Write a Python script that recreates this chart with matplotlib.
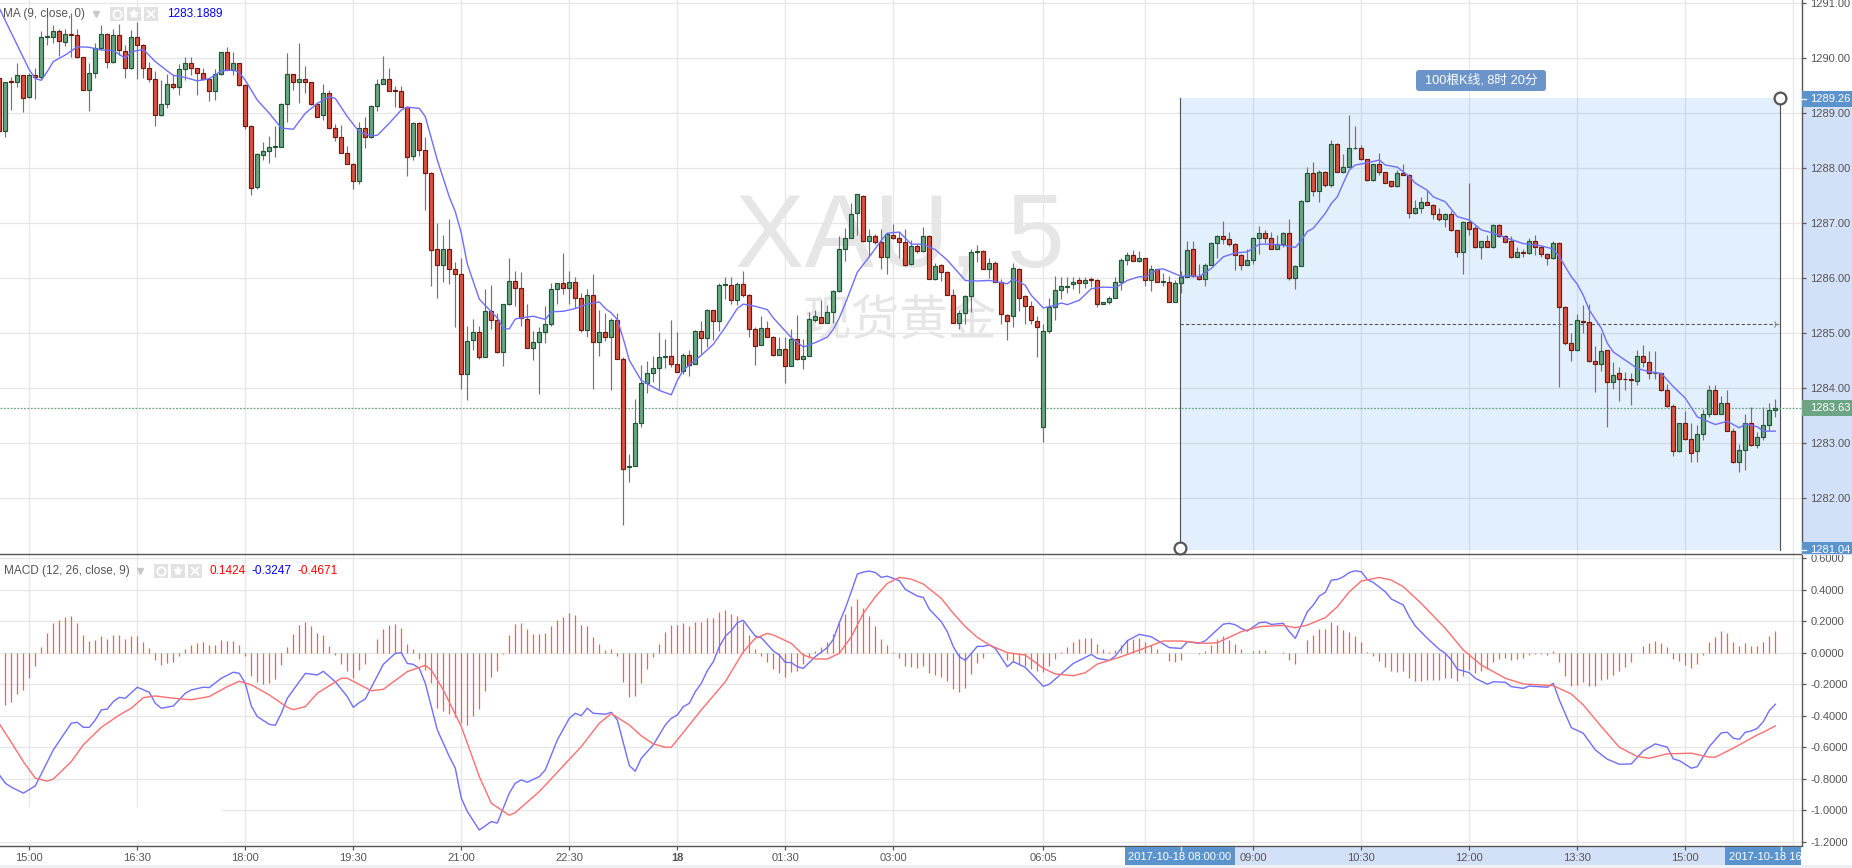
import matplotlib
matplotlib.use("Agg")
import matplotlib.pyplot as plt
from matplotlib.patches import Rectangle, FancyBboxPatch

plt.rcParams['font.family'] = ['Liberation Sans', 'Noto Sans CJK SC', 'DejaVu Sans']
plt.rcParams['axes.unicode_minus'] = False

# 5 minute XAU bars, index 0 = 14:35
opens = [
    1289.64,1288.67,1289.58,1289.55,1289.68,1289.28,1289.69,1289.65,1290.38,1290.38,
    1290.49,1290.29,1290.44,1290.42,1290.01,1289.42,1289.72,1290.17,1290.44,1289.92,
    1290.41,1290.13,1289.81,1290.38,1290.24,1289.82,1289.62,1288.95,1289.15,1289.53,
    1289.47,1289.79,1289.90,1289.81,1289.72,1289.61,1289.40,1289.70,1290.10,1289.78,
    1289.90,1289.51,1288.75,1287.65,1288.24,1288.31,1288.37,1288.38,1289.15,1289.70,
    1289.56,1289.62,1289.55,1289.15,1288.95,1289.35,1288.72,1288.56,1288.27,1288.07,
    1287.75,1288.72,1288.55,1289.13,1289.53,1289.62,1289.41,1289.39,1289.11,1288.22,
    1288.81,1288.33,1287.90,1286.53,1286.24,1286.53,1286.16,1286.07,1284.25,1284.87,
    1285.02,1284.56,1285.40,1285.24,1284.65,1285.52,1285.94,1285.82,1285.25,1284.73,
    1284.84,1285.02,1285.15,1285.79,1285.91,1285.82,1285.93,1285.64,1285.05,1285.69,
    1284.84,1285.02,1284.92,1285.24,1284.53,1282.55,1282.58,1283.36,1284.09,1284.27,
    1284.35,1284.56,1284.58,1284.44,1284.31,1284.60,1284.44,1285.04,1284.91,1285.41,
    1285.21,1285.86,1285.86,1285.60,1285.89,1285.69,1285.07,1284.78,1285.09,1284.93,
    1284.60,1284.71,1284.40,1284.89,1284.52,1284.58,1285.24,1285.28,1285.18,1285.38,
    1285.75,1286.53,1286.73,1287.18,1287.49,1286.67,1286.75,1286.65,1286.38,1286.78,
    1286.72,1286.65,1286.25,1286.58,1286.49,1286.76,1285.98,1286.24,1286.11,1285.69,
    1285.18,1285.35,1285.67,1286.47,1286.49,1286.16,1286.27,1285.93,1285.33,1285.31,
    1286.16,1285.67,1285.49,1285.22,1283.29,1285.04,1285.47,1285.78,1285.84,1285.88,
    1285.95,1285.91,1285.97,1285.95,1285.53,1285.55,1285.64,1285.93,1286.33,1286.42,
    1286.31,1286.35,1285.95,1286.15,1285.93,1285.93,1285.56,1285.91,1286.02,1286.52,
    1286.04,1285.97,1286.24,1286.64,1286.75,1286.71,1286.62,1286.42,1286.24,1286.33,
    1286.73,1286.82,1286.72,1286.53,1286.62,1286.82,1286.00,1286.22,1287.39,1287.90,
    1287.57,1287.93,1287.69,1288.44,1287.93,1288.02,1288.35,1288.35,1288.15,1287.77,
    1288.06,1287.92,1287.75,1287.66,1287.90,1287.87,1287.17,1287.26,1287.37,1287.33,
    1287.15,1287.06,1287.16,1286.86,1286.47,1287.02,1286.90,1286.55,1286.66,1286.55,
    1286.95,1286.75,1286.66,1286.38,1286.46,1286.45,1286.66,1286.55,1286.44,1286.35,
    1286.64,1285.46,1284.82,1284.68,1285.22,1285.19,1284.48,1284.44,1284.68,1284.10,
    1284.26,1284.16,1284.15,1284.13,1284.57,1284.46,1284.26,1284.26,1283.95,1283.66,
    1282.84,1283.35,1283.06,1282.84,1283.15,1283.53,1283.95,1283.53,1283.72,1283.22,
    1282.64,1282.86,1283.35,1282.95,1283.10,1283.32,1283.59]
closes = [
    1288.67,1289.56,1289.55,1289.68,1289.27,1289.69,1289.65,1290.38,1290.39,1290.49,
    1290.30,1290.44,1290.42,1290.01,1289.42,1289.72,1290.17,1290.44,1289.92,1290.41,
    1290.14,1289.81,1290.38,1290.24,1289.82,1289.62,1288.95,1289.15,1289.53,1289.47,
    1289.79,1289.90,1289.81,1289.72,1289.61,1289.40,1289.70,1290.10,1289.78,1289.90,
    1289.51,1288.75,1287.64,1288.25,1288.31,1288.37,1288.39,1289.15,1289.70,1289.56,
    1289.62,1289.55,1289.15,1288.93,1289.35,1288.72,1288.56,1288.27,1288.07,1287.75,
    1288.72,1288.55,1289.13,1289.53,1289.62,1289.40,1289.39,1289.11,1288.20,1288.82,
    1288.33,1287.90,1286.51,1286.24,1286.53,1286.16,1286.07,1284.25,1284.85,1285.02,
    1284.56,1285.40,1285.24,1284.65,1285.52,1285.94,1285.82,1285.27,1284.73,1284.84,
    1285.02,1285.15,1285.80,1285.91,1285.82,1285.93,1285.64,1285.05,1285.69,1284.84,
    1285.02,1284.92,1285.24,1284.53,1282.53,1282.58,1283.36,1284.09,1284.27,1284.35,
    1284.56,1284.58,1284.44,1284.29,1284.60,1284.42,1285.04,1284.91,1285.41,1285.21,
    1285.86,1285.88,1285.60,1285.89,1285.69,1285.07,1284.75,1285.09,1284.93,1284.60,
    1284.71,1284.40,1284.89,1284.52,1284.58,1285.25,1285.31,1285.18,1285.38,1285.75,
    1286.53,1286.73,1287.16,1287.53,1286.67,1286.75,1286.65,1286.38,1286.80,1286.72,
    1286.65,1286.23,1286.58,1286.49,1286.76,1285.98,1286.22,1286.11,1285.69,1285.18,
    1285.35,1285.67,1286.47,1286.49,1286.16,1286.27,1285.93,1285.34,1285.22,1286.18,
    1285.64,1285.49,1285.24,1285.11,1285.04,1285.47,1285.78,1285.85,1285.85,1285.93,
    1285.91,1285.96,1285.95,1285.53,1285.55,1285.64,1285.93,1286.33,1286.42,1286.31,
    1286.35,1285.95,1286.15,1285.93,1285.94,1285.56,1285.91,1286.02,1286.51,1286.04,
    1285.97,1286.24,1286.64,1286.75,1286.71,1286.62,1286.42,1286.24,1286.33,1286.73,
    1286.82,1286.72,1286.53,1286.62,1286.82,1286.00,1286.22,1287.39,1287.90,1287.57,
    1287.93,1287.69,1288.44,1287.93,1288.02,1288.35,1288.35,1288.15,1287.77,1288.06,
    1287.92,1287.73,1287.66,1287.90,1287.87,1287.17,1287.26,1287.37,1287.33,1287.15,
    1287.06,1287.16,1286.86,1286.47,1287.02,1286.89,1286.55,1286.66,1286.56,1286.95,
    1286.75,1286.65,1286.38,1286.46,1286.45,1286.66,1286.55,1286.44,1286.35,1286.64,
    1285.46,1284.82,1284.68,1285.24,1285.19,1284.48,1284.44,1284.66,1284.10,1284.24,
    1284.16,1284.15,1284.14,1284.57,1284.46,1284.26,1284.27,1283.95,1283.66,1282.84,
    1283.35,1283.06,1282.82,1283.15,1283.53,1283.95,1283.53,1283.72,1283.22,1282.64,
    1282.86,1283.35,1282.95,1283.10,1283.32,1283.59,1283.63]
highs = [
    1289.66,1289.56,1289.65,1289.90,1289.69,1289.73,1289.81,1290.48,1290.78,1290.59,
    1290.53,1290.53,1290.81,1290.52,1290.02,1289.90,1290.26,1290.59,1290.45,1290.52,
    1290.61,1290.23,1290.50,1290.65,1290.25,1289.93,1289.75,1289.59,1289.70,1289.68,
    1289.88,1290.02,1290.02,1289.82,1289.81,1289.63,1289.79,1290.11,1290.20,1290.11,
    1289.91,1289.53,1288.78,1288.27,1288.47,1288.58,1288.75,1289.17,1290.08,1289.70,
    1290.26,1289.85,1289.56,1289.17,1289.53,1289.41,1288.79,1288.78,1288.39,1288.08,
    1288.84,1288.93,1289.14,1289.62,1290.03,1289.81,1289.48,1289.48,1289.12,1288.84,
    1288.84,1288.55,1287.92,1287.00,1286.78,1287.07,1286.28,1286.35,1285.13,1285.25,
    1285.13,1285.80,1285.86,1285.35,1285.53,1286.35,1286.13,1286.11,1285.52,1285.04,
    1285.10,1285.48,1285.91,1285.91,1286.45,1286.13,1286.02,1285.73,1285.80,1286.06,
    1285.41,1285.35,1285.27,1285.35,1284.55,1282.79,1283.79,1284.42,1284.48,1284.57,
    1285.02,1284.88,1285.24,1285.01,1284.63,1284.68,1285.05,1285.22,1285.44,1285.42,
    1285.90,1286.01,1286.01,1285.92,1286.12,1285.71,1285.10,1285.30,1285.21,1284.94,
    1284.92,1284.92,1285.07,1285.32,1284.89,1285.38,1285.41,1285.60,1285.50,1285.77,
    1286.75,1286.90,1287.36,1287.53,1287.50,1286.89,1286.80,1286.89,1286.82,1286.97,
    1286.84,1286.89,1286.68,1286.62,1286.93,1286.77,1286.27,1286.25,1286.13,1285.80,
    1285.41,1285.68,1286.53,1286.60,1286.50,1286.36,1286.30,1285.98,1285.34,1286.27,
    1286.17,1285.68,1285.57,1285.31,1285.15,1285.64,1286.04,1286.02,1286.02,1286.01,
    1286.01,1286.02,1286.01,1285.97,1285.55,1285.66,1286.02,1286.36,1286.47,1286.51,
    1286.48,1286.36,1286.24,1286.16,1286.09,1286.04,1285.95,1286.13,1286.66,1286.66,
    1286.25,1286.27,1286.65,1286.77,1287.03,1286.83,1286.63,1286.43,1286.53,1286.74,
    1286.94,1286.87,1286.83,1286.78,1286.84,1287.06,1286.23,1287.41,1288.01,1288.10,
    1287.96,1287.94,1288.50,1288.45,1288.25,1288.96,1288.76,1288.41,1288.16,1288.07,
    1288.26,1287.93,1287.76,1287.96,1288.06,1287.88,1287.41,1287.47,1287.59,1287.34,
    1287.26,1287.18,1287.21,1286.87,1287.03,1287.72,1286.95,1286.67,1286.78,1286.98,
    1286.98,1286.78,1286.76,1286.56,1286.52,1286.73,1286.78,1286.56,1286.45,1286.66,
    1286.65,1285.48,1284.99,1285.34,1285.50,1285.53,1284.76,1285.00,1284.69,1284.46,
    1284.37,1284.28,1284.26,1284.68,1284.77,1284.66,1284.67,1284.27,1284.06,1283.70,
    1283.36,1283.57,1283.35,1283.33,1283.62,1284.05,1284.05,1283.84,1283.96,1283.26,
    1282.97,1283.52,1283.64,1283.20,1283.64,1283.72,1283.79]
lows = [
    1288.62,1288.56,1289.05,1289.47,1289.02,1289.27,1289.25,1289.62,1290.23,1290.26,
    1290.04,1290.22,1290.02,1290.00,1289.41,1289.03,1289.64,1290.15,1289.82,1289.90,
    1290.05,1289.64,1289.79,1289.62,1289.64,1289.55,1288.75,1288.94,1289.08,1289.44,
    1289.32,1289.59,1289.68,1289.32,1289.59,1289.22,1289.24,1289.69,1289.77,1289.68,
    1289.49,1288.70,1287.50,1287.62,1288.14,1288.08,1288.20,1288.38,1288.84,1289.41,
    1289.18,1289.36,1289.14,1288.93,1288.87,1288.71,1288.49,1288.26,1288.06,1287.62,
    1287.70,1288.35,1288.54,1289.04,1289.52,1289.39,1289.11,1289.11,1287.85,1288.14,
    1288.22,1287.23,1285.85,1285.63,1285.92,1285.89,1285.10,1283.98,1283.77,1284.68,
    1284.52,1284.55,1285.06,1284.64,1284.39,1285.50,1285.48,1285.13,1284.72,1284.50,
    1283.89,1284.81,1285.13,1285.52,1285.71,1285.52,1285.45,1285.01,1284.93,1283.98,
    1284.57,1284.85,1283.95,1284.52,1281.50,1282.28,1282.57,1283.28,1283.90,1284.10,
    1283.95,1284.35,1284.38,1284.28,1284.25,1284.22,1284.43,1284.62,1284.74,1284.86,
    1285.04,1285.62,1285.52,1285.50,1285.65,1284.93,1284.41,1284.77,1284.92,1284.58,
    1284.59,1284.08,1284.39,1284.50,1284.34,1284.57,1285.19,1285.17,1285.17,1285.18,
    1285.74,1286.30,1286.72,1286.77,1286.65,1286.38,1286.62,1286.16,1286.07,1286.71,
    1286.36,1286.22,1286.24,1286.45,1286.47,1285.97,1285.95,1285.94,1285.68,1285.17,
    1285.06,1285.16,1285.38,1286.28,1286.15,1285.99,1285.92,1285.15,1284.86,1285.10,
    1285.39,1285.15,1285.15,1284.56,1283.02,1285.00,1285.24,1285.61,1285.72,1285.79,
    1285.73,1285.82,1285.84,1285.47,1285.53,1285.52,1285.63,1285.77,1286.24,1286.30,
    1286.29,1285.85,1285.76,1285.92,1285.85,1285.55,1285.55,1285.72,1286.01,1286.02,
    1285.95,1285.85,1286.23,1286.35,1286.62,1286.58,1286.14,1286.14,1286.23,1286.25,
    1286.44,1286.64,1286.52,1286.52,1286.55,1285.96,1285.80,1286.21,1287.38,1287.48,
    1287.38,1287.65,1287.65,1287.92,1287.91,1288.01,1288.34,1288.14,1287.76,1287.76,
    1287.87,1287.72,1287.65,1287.65,1287.86,1287.08,1287.16,1287.18,1287.32,1287.07,
    1287.03,1286.93,1286.85,1286.38,1286.07,1286.78,1286.54,1286.34,1286.55,1286.54,
    1286.74,1286.65,1286.36,1286.38,1286.38,1286.44,1286.42,1286.38,1286.23,1286.34,
    1284.02,1284.78,1284.48,1284.67,1284.99,1284.47,1283.93,1284.30,1283.29,1283.98,
    1283.76,1283.96,1283.69,1284.05,1284.37,1284.16,1284.15,1283.94,1283.65,1282.76,
    1282.83,1283.05,1282.64,1282.64,1283.05,1283.47,1283.52,1283.52,1283.21,1282.63,
    1282.47,1282.50,1282.94,1282.91,1283.04,1283.21,1283.47]

ma_idx = [0,5,6,7,8,9,11,13,15,17,19,21,22,24,26,28,29,31,33,35,37,39,40,41,43,45,47,49,51,53,55,56,58,60,62,63,65,67,68,70,71,73,75,76,77,
          78,80,82,83,84,85,86,87,89,91,92,94,96,98,100,101,102,103,104,105,107,108,110,112,113,114,117,119,121,123,124,126,128,129,132,134,136,138,139,140,141,143,145,147,148,150,152,154,156,158,161,163,165,168,
          169,171,172,174,176,177,178,180,182,184,186,188,190,191,193,194,196,197,
          198,200,202,204,206,208,210,212,214,216,217,218,219,221,222,223,224,225,226,228,230,231,233,235,236,238,239,241,
          243,245,247,249,251,254,257,259,260,262,263,264,265,267,268,269,271,273,275,277,279,281,283,286,288,290,291,293,294,296]
ma_val = [1290.90,1289.78,1289.62,1289.59,1289.75,1289.93,1290.05,1290.20,1290.19,1290.14,1290.13,1289.99,1290.11,1290.15,1289.93,1289.76,1289.68,1289.64,1289.58,1289.62,1289.76,1289.78,1289.73,1289.59,1289.23,1288.99,1288.72,1288.70,1288.99,1289.17,1289.29,1289.26,1288.93,1288.65,1288.58,1288.59,1288.81,1289.05,1289.10,1289.08,1288.93,1288.14,1287.47,1287.20,1286.81,
          1286.25,1285.61,1285.38,1285.27,1285.07,1285.07,1285.25,1285.27,1285.30,1285.24,1285.38,1285.39,1285.44,1285.52,1285.56,1285.44,1285.36,1285.24,1284.89,1284.50,1284.13,1284.07,1283.95,1283.87,1284.13,1284.32,1284.59,1284.79,1285.10,1285.44,1285.52,1285.48,1285.42,1285.27,1284.91,1284.74,1284.82,1284.92,1285.06,1285.27,1285.53,1286.10,1286.38,1286.68,1286.81,1286.83,1286.61,1286.61,1286.51,1286.32,1285.95,1285.94,1285.95,1285.89,
          1285.98,1285.86,1285.68,1285.45,1285.50,1285.54,1285.51,1285.59,1285.80,1285.83,1285.82,1285.95,1286.02,1286.01,1286.15,1286.16,1286.07,1286.02,
          1286.04,1286.02,1286.17,1286.38,1286.45,1286.47,1286.61,1286.61,1286.59,1286.55,1286.68,1286.84,1286.90,1287.17,1287.35,1287.47,1287.72,1287.96,1288.05,1288.09,1288.14,1288.05,1288.01,1287.84,1287.72,1287.59,1287.47,1287.38,
          1287.11,1287.05,1286.87,1286.81,1286.73,1286.62,1286.58,1286.52,1286.38,1286.02,1285.88,1285.68,1285.41,1285.08,1284.81,1284.65,1284.50,1284.35,1284.29,1284.26,1284.02,1283.81,1283.47,1283.33,1283.39,1283.27,1283.34,1283.29,1283.21,1283.21]

# MACD histogram for bars 1..296
hist_val = [
    -.331,-.312,-.262,-.236,-.162,-.084,.036,.124,.188,.209,.226,.232,.188,.112,.074,.080,.105,.086,.112,.112,
    .086,.105,.105,.068,.030,-.046,-.078,-.065,-.059,-.021,.023,.049,.061,.068,.049,.049,.080,.074,.074,.049,
    -.021,-.148,-.186,-.198,-.192,-.167,-.078,.036,.118,.175,.194,.169,.124,.112,.042,-.015,-.072,-.116,-.160,-.110,
    -.072,0,.086,.150,.175,.181,.156,.055,.023,-.040,-.110,-.192,-.350,-.369,-.388,-.405,-.447,-.458,-.401,-.357,
    -.243,-.154,-.116,-.008,.112,.181,.188,.150,.118,.118,.124,.169,.207,.226,.251,.238,.175,.169,.099,.055,
    .017,.023,-.021,
    -.186,-.278,-.274,-.192,-.103,-.025,.055,.131,.175,.175,.188,.169,.194,.194,.219,.219,.257,.270,.245,.232,.194,.112,
    .023,-.019,-.057,-.103,-.129,-.154,-.122,-.114,-.072,-.036,.011,.036,.068,.118,.188,.245,.295,.340,.281,.232,.169,.086,.049,.004,
    -.034,-.084,-.091,-.097,-.084,-.129,-.141,-.154,-.179,-.230,-.249,-.224,-.135,-.065,-.034,0,0,-.004,-.046,-.059,-.072,-.084,-.103,-.116,-.122,
    -.084,-.040,.004,.036,.068,.086,.093,.093,.055,.023,.004,.017,.049,.080,.086,.093,.068,.049,.023,0,-.053,-.059,-.046,0,0,-.008,.011,.049,.084,.105,.080,.055,
    .023,0,.011,.017,.017,0,0,.004,-.046,-.072,0,.080,.112,.150,.150,.194,.175,.143,.131,.105,.068,.004,-.021,-.053,-.091,-.116,-.122,-.116,-.160,-.179,-.179,
    -.173,-.173,-.173,-.160,-.160,-.179,-.148,-.110,-.129,-.116,-.103,-.059,-.040,-.034,-.046,-.040,-.034,-.017,-.008,-.006,-.015,.011,
    -.059,-.148,-.211,-.205,-.186,-.211,-.211,-.173,-.167,-.141,-.116,-.091,-.059,0,.042,.061,.074,.061,.036,
    -.040,-.053,-.078,-.097,-.072,-.015,.068,.099,.137,.124,.068,.042,.061,.042,.042,.068,.105,.137]

macd_idx = [0,1,2,4,6,9,12,13,14,15,16,17,18,19,20,21,23,25,26,27,29,31,32,34,35,37,39,40,41,42,43,45,46,47,48,51,53,54,56,58,59,60,61,64,66,67,68,69,70,71,73,75,76,77,78,80,82,83,85,86,87,88,90,91,93,95,96,97,98,99,101,102,103,
            105,106,107,109,111,112,113,114,115,116,117,118,119,120,121,122,123,124,125,126,127,129,130,131,132,133,134,136,138,139,140,141,142,143,144,145,146,147,148,150,151,153,154,155,157,158,159,160,161,163,164,165,166,168,169,171,174,175,179,182,183,185,186,188,190,192,195,197,198,200,201,204,205,206,207,
            208,210,211,212,214,215,216,217,218,219,220,221,222,223,224,225,226,227,228,229,231,232,234,235,236,238,240,241,242,243,245,246,248,249,251,252,254,255,258,259,260,262,264,266,268,270,272,274,276,278,279,280,282,283,285,287,288,289,290,291,292,293,294,295,296]
macd_val = [-.774,-.827,-.852,-.890,-.844,-.616,-.447,-.441,-.473,-.473,-.426,-.363,-.357,-.310,-.283,-.289,-.219,-.251,-.321,-.352,-.338,-.257,-.236,-.219,-.221,-.162,-.124,-.131,-.194,-.338,-.405,-.454,-.460,-.384,-.289,-.131,-.141,-.118,-.184,-.278,-.346,-.316,-.293,-.074,-.004,0,-.068,-.074,-.099,-.194,-.489,-.658,-.732,-.922,-1.006,-1.124,-1.070,-1.080,-.890,-.827,-.806,-.821,-.785,-.743,-.553,-.416,-.384,-.399,-.352,-.384,-.390,-.378,-.426,
            -.715,-.751,-.669,-.584,-.458,-.416,-.395,-.342,-.321,-.247,-.194,-.114,-.057,.038,.105,.139,.190,.205,.154,.105,.095,.011,-.015,-.061,-.063,-.089,-.099,-.025,.032,.084,.190,.281,.386,.498,.511,.517,.508,.477,.485,.456,.401,.359,.350,.276,.196,.133,.038,-.025,-.049,.040,.040,.049,.027,-.089,-.057,-.093,-.213,-.200,-.068,-.011,-.036,-.049,-.021,.076,.116,.101,.032,.027,.070,.059,.076,.181,.186,.177,.154,
            .137,.190,.194,.179,.186,.133,.091,.175,.259,.302,.359,.382,.460,.464,.481,.508,.519,.513,.464,.445,.386,.340,.302,.228,.169,.091,.021,-.004,-.046,-.105,-.127,-.162,-.200,-.184,-.188,-.215,-.226,-.211,-.219,-.194,-.300,-.475,-.511,-.616,-.675,-.707,-.705,-.622,-.578,-.599,-.673,-.684,-.732,-.722,-.595,-.508,-.504,-.542,-.549,-.504,-.496,-.479,-.437,-.367,-.327]

signal_idx = [0,2,4,6,8,9,12,14,17,20,22,24,26,29,32,35,38,40,42,45,48,49,51,53,57,58,62,64,68,71,72,74,77,80,82,85,86,90,97,100,102,
              105,107,109,111,112,113,117,121,124,126,128,129,132,134,136,138,140,142,144,146,148,150,152,154,157,159,161,163,165,168,171,174,176,179,181,183,187,190,194,197,201,203,
              207,210,214,216,218,221,223,225,227,230,232,234,237,241,244,247,251,254,259,262,264,267,270,273,275,278,282,285,286,289,292,293,294,296]
signal_val = [-.451,-.568,-.690,-.795,-.814,-.801,-.690,-.584,-.473,-.395,-.352,-.285,-.274,-.289,-.298,-.278,-.215,-.181,-.204,-.268,-.346,-.361,-.342,-.257,-.162,-.162,-.241,-.232,-.120,-.080,-.110,-.236,-.468,-.785,-.954,-1.030,-1.013,-.880,-.595,-.447,-.386,
              -.458,-.527,-.578,-.599,-.599,-.553,-.363,-.184,.006,.091,.122,.112,.059,-.015,-.040,-.040,-.004,.101,.249,.354,.439,.477,.466,.435,.344,.249,.165,.097,.049,0,-.015,-.099,-.135,-.146,-.127,-.072,-.025,.017,.074,.074,.059,.063,
              .133,.165,.173,.158,.175,.222,.291,.386,.454,.477,.460,.418,.312,.154,.017,-.078,-.162,-.198,-.209,-.262,-.331,-.468,-.599,-.658,-.669,-.641,-.637,-.662,-.662,-.605,-.542,-.521,-.504,-.464]

# time axis
tick_idx = [5,23,41,59,77,95,113,131,149,174,191,209,227,245,263,281,299]
tick_labels = ['15:00','16:30','18:00','19:30','21:00','22:30','18','01:30','03:00','06:05','','09:00','10:30','12:00','13:30','15:00','']
price_ticks = [1282,1283,1284,1285,1286,1287,1288,1289,1290,1291]
macd_ticks = [0.6,0.4,0.2,0.0,-0.2,-0.4,-0.6,-0.8,-1.0,-1.2]

sel_start, sel_end = 197, 297
sel_top, sel_bottom = 1289.26, 1281.04
sel_mid = 1285.15
last_price = 1283.63

up_fill, up_edge = '#6ba583', '#225437'
down_fill, down_edge = '#d75442', '#6f1a10'
wick_col = '#737375'
grid_col = '#e6e6e6'
axis_col = '#555555'
text_col = '#555555'
ma_col = '#6e6eff'
red_line = '#ff6e6e'
box_blue = '#5b94cd'
hl_blue = '#d3e1f8'
W, H = 1852, 868
FS = 8.0
LEG = 8.5


def pane(top, bottom):
    return [0, (H - bottom) / H, 1802 / W, (bottom - top) / H]


fig = plt.figure(figsize=(W / 100, H / 100), dpi=100, facecolor='white')

# background layer in pixels
bg = fig.add_axes([0, 0, 1, 1], zorder=0)
bg.set_xlim(0, W)
bg.set_ylim(H, 0)
bg.axis('off')
bg.add_patch(Rectangle((1802, 98.3), 50, 456, color=hl_blue, lw=0))
bg.add_patch(Rectangle((1181, 846), 600, 19, color=hl_blue, lw=0))
bg.add_patch(Rectangle((0, 865), W, 3, color='#eef0f3', lw=0))

ax = fig.add_axes(pane(0, 554), zorder=2)
ax.patch.set_alpha(0)
ax.set_xlim(0.117, 300.45)
ax.set_ylim(1280.976, 1291.05)

m = fig.add_axes(pane(555, 846), zorder=1)
m.patch.set_alpha(0)
m.set_xlim(0.117, 300.45)
m.set_ylim(-1.225, 0.619)

for a in (ax, m):
    a.set_xticks(tick_idx)
    a.set_axisbelow(True)
    a.grid(True, color=grid_col, lw=0.9)
    a.yaxis.tick_right()
    a.tick_params(axis='y', length=3, width=0.9, color=axis_col, labelcolor=text_col, labelsize=FS, pad=3)
    for s in ('left', 'top'):
        a.spines[s].set_visible(False)
    a.spines['right'].set_color(axis_col)
    a.spines['bottom'].set_color(axis_col)
    a.spines['right'].set_linewidth(1.0)
    a.spines['bottom'].set_linewidth(1.0)

ax.tick_params(axis='x', length=0, labelbottom=False)
ax.set_yticks(price_ticks)
ax.set_yticklabels(['%.2f' % p for p in price_ticks])
m.set_yticks(macd_ticks)
m.set_yticklabels(['%.4f' % v for v in macd_ticks])
m.set_xticklabels(tick_labels)
m.tick_params(axis='x', length=3, width=0.9, color=axis_col, labelcolor=text_col, labelsize=FS, pad=2)
for lab in m.get_xticklabels():
    if lab.get_text() == '18':
        lab.set_fontweight('bold')

# watermark
ax.text(0.4995, 0.5185, 'XAU, 5', transform=ax.transAxes, fontsize=75, color='#e6e6e6',
        ha='center', va='baseline', zorder=0.2)
ax.text(0.4995, 0.421, '现货黄金', transform=ax.transAxes, fontsize=35, color='#e6e6e6',
        ha='center', va='center', zorder=0.2, family=['Noto Sans CJK SC'])

# measuring tool
ax.add_patch(Rectangle((sel_start - 0.2, sel_bottom), sel_end - sel_start, sel_top - sel_bottom,
                       facecolor='#2186f3', alpha=0.13, lw=0, zorder=1.5))
ax.plot([sel_start - 0.2, sel_end - 0.2], [sel_mid, sel_mid], color=axis_col, lw=0.8, ls=(0, (3, 2)), zorder=1.7)
ax.plot([sel_end - 0.9], [sel_mid], marker='4', ms=5, color='#888888', mew=0.8, zorder=1.7)
ax.plot([sel_start - 0.2, sel_start - 0.2], [sel_top, sel_bottom], color=axis_col, lw=0.85, zorder=1.7)
ax.plot([sel_end - 0.2, sel_end - 0.2], [sel_top, sel_bottom], color=axis_col, lw=0.85, zorder=1.7)

ax.axhline(last_price, color=up_fill, lw=0.9, ls=(0, (1.5, 1.2)), zorder=1.8)

# candles
idx = range(len(opens))
ax.vlines(list(idx), lows, highs, color=wick_col, lw=0.85, zorder=2)
up_i = [i for i in idx if closes[i] >= opens[i]]
dn_i = [i for i in idx if closes[i] < opens[i]]
ax.bar(up_i, [closes[i] - opens[i] for i in up_i], bottom=[opens[i] for i in up_i], width=0.62,
       color=up_fill, edgecolor=up_edge, lw=0.85, zorder=3)
ax.bar(dn_i, [opens[i] - closes[i] for i in dn_i], bottom=[closes[i] for i in dn_i], width=0.62,
       color=down_fill, edgecolor=down_edge, lw=0.85, zorder=3)
ax.plot(ma_idx, ma_val, color=ma_col, lw=1.0, zorder=4)

ax.plot([sel_start - 0.2], [sel_bottom + 0.04], marker='o', ms=8.5, mfc='white', mec=axis_col, mew=1.6, zorder=6, clip_on=False)
ax.plot([sel_end - 0.2], [sel_top], marker='o', ms=8.5, mfc='white', mec=axis_col, mew=1.6, zorder=6)

# macd
m.vlines(list(range(1, len(hist_val) + 1)), 0, hist_val, color='#ff5a5a', lw=0.9, zorder=2)
m.plot(macd_idx, macd_val, color=ma_col, lw=1.0, zorder=3)
m.plot(signal_idx, signal_val, color=red_line, lw=1.0, zorder=4)

# front layer in pixels: labels and boxes
fg = fig.add_axes([0, 0, 1, 1], zorder=5)
fg.set_xlim(0, W)
fg.set_ylim(H, 0)
fg.axis('off')
fg.patch.set_alpha(0)


def chips(y, xs):
    for x, mk in zip(xs, ['o', '*', 'x']):
        fg.add_patch(Rectangle((x, y - 7), 14, 14, color='#e2e2e2', lw=0))
        fg.plot([x + 7], [y], marker=mk, ms=6, mfc='none' if mk == 'o' else 'white', mec='white', mew=1.3)


fg.text(3, 14, 'MA (9, close, 0)', color=text_col, fontsize=LEG, va='center')
fg.plot([96], [14], marker='v', ms=4, color='#c8c8c8')
chips(14, [110, 127, 144])
fg.text(167, 14, '1283.1889', color='#0000ff', fontsize=LEG, va='center')

fg.text(4, 571, 'MACD (12, 26, close, 9)', color=text_col, fontsize=LEG, va='center')
fg.plot([140], [571], marker='v', ms=4, color='#c8c8c8')
chips(571, [154, 171, 188])
fg.text(210, 571, '0.1424', color='#ff0000', fontsize=LEG, va='center')
fg.text(252, 571, '-0.3247', color='#0000ff', fontsize=LEG, va='center')
fg.text(297, 571, '-0.4671', color='#ff0000', fontsize=LEG, va='center')

# blank patch under the macd legend corner
fg.add_patch(Rectangle((0, 807), 222, 35, color='white', lw=0))

# pill with bar count
fg.add_patch(FancyBboxPatch((1419, 73), 124, 15, boxstyle='round,pad=3,rounding_size=3', color='#6b94c9', lw=0))
fg.text(1481, 80.5, '100根K线, 8时 20分', color='white', fontsize=9.2, ha='center', va='center')

# axis boxes
fg.add_patch(Rectangle((1802, 550), 50, 4.5, color=hl_blue, lw=0))
fg.add_patch(Rectangle((1802, 846.6), 50, 22, color='white', lw=0))
fg.add_patch(Rectangle((1802, 865), 50, 3, color='#eef0f3', lw=0))
fg.add_patch(Rectangle((1802, 91), 50, 16, color=box_blue, lw=0))
fg.plot([1802, 1806], [98.5, 98.5], color='white', lw=0.9)
fg.text(1810, 99, '%.2f' % sel_top, color='white', fontsize=FS, va='center')
fg.add_patch(Rectangle((1802, 542), 50, 12, color=box_blue, lw=0))
fg.plot([1802, 1806], [549.5, 549.5], color='white', lw=0.9)
t = fg.text(1810, 550, '%.2f' % sel_bottom, color='white', fontsize=FS, va='center')
t.set_clip_path(Rectangle((1802, 0), 50, 554, transform=fg.transData))
fg.add_patch(Rectangle((1802, 400), 50, 16, color=up_fill, lw=0))
fg.text(1810, 408, '%.2f' % last_price, color='white', fontsize=FS, va='center')

fg.add_patch(Rectangle((1125, 846.5), 110, 18.5, color=box_blue, lw=0))
fg.plot([1181, 1181], [846.5, 850], color='white', lw=0.9)
fg.text(1180, 857, '2017-10-18 08:00:00', color='white', fontsize=FS, ha='center', va='center')
fg.add_patch(Rectangle((1725, 846.5), 76, 18.5, color=box_blue, lw=0))
fg.plot([1781, 1781], [846.5, 850], color='white', lw=0.9)
fg.text(1729, 857, '2017-10-18 16', color='white', fontsize=FS, va='center')

fig.savefig('out.png', dpi=100, facecolor='white')
